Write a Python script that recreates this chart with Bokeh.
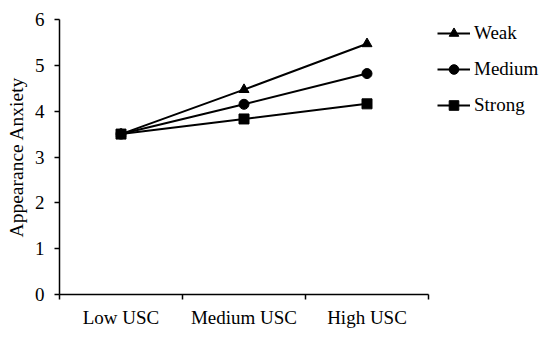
from bokeh.plotting import figure
from bokeh.models import FixedTicker, Range1d, Legend, LegendItem
from bokeh.embed import file_html
from bokeh.resources import INLINE

categories = ["Low USC", "Medium USC", "High USC"]
x_pos = [0.5, 1.5, 2.5]
weak = [3.5, 4.47, 5.47]
medium = [3.5, 4.15, 4.82]
strong = [3.5, 3.83, 4.16]
y_ticks = [0, 1, 2, 3, 4, 5, 6]

FONT = "Liberation Serif"

p = figure(frame_width=369, frame_height=275, output_backend="svg", toolbar_location=None,
           x_range=Range1d(0, 3), y_range=Range1d(0, 6),
           min_border_left=59, min_border_right=115, min_border_top=19, min_border_bottom=37)
p.xgrid.visible = False
p.ygrid.visible = False
p.outline_line_color = None
p.background_fill_color = "white"
p.border_fill_color = "white"

# x axis
p.xaxis.ticker = FixedTicker(ticks=x_pos, minor_ticks=[0, 1, 2, 3])
p.xaxis.major_label_overrides = {x: c for x, c in zip(x_pos, categories)}
p.xaxis.major_tick_out = 0
p.xaxis.major_tick_in = 0
p.xaxis.minor_tick_out = 5
p.xaxis.minor_tick_in = 0
p.xaxis.minor_tick_line_color = "black"
p.xaxis.minor_tick_line_width = 1.5
p.xaxis.axis_line_width = 1.5
p.xaxis.major_label_standoff = 7
p.xaxis.major_label_text_font = FONT
p.xaxis.major_label_text_font_size = "19px"
p.xaxis.major_label_text_color = "black"

# y axis
p.yaxis.ticker = FixedTicker(ticks=y_ticks, minor_ticks=[])
p.yaxis.major_tick_out = 5
p.yaxis.major_tick_in = 0
p.yaxis.major_tick_line_width = 1.5
p.yaxis.axis_line_width = 1.5
p.yaxis.major_label_standoff = 10
p.yaxis.major_label_text_font = FONT
p.yaxis.major_label_text_font_size = "19px"
p.yaxis.major_label_text_color = "black"
p.yaxis.axis_label = "Appearance Anxiety"
p.yaxis.axis_label_text_font = FONT
p.yaxis.axis_label_text_font_size = "19.5px"
p.yaxis.axis_label_text_font_style = "normal"
p.yaxis.axis_label_text_color = "black"
p.yaxis.axis_label_standoff = 5

l1 = p.line(x_pos, weak, line_color="black", line_width=2)
s1 = p.scatter(x_pos, weak, marker="triangle", size=10, color="black")
l2 = p.line(x_pos, medium, line_color="black", line_width=2)
s2 = p.scatter(x_pos, medium, marker="circle", size=10, color="black")
l3 = p.line(x_pos, strong, line_color="black", line_width=2)
s3 = p.scatter(x_pos, strong, marker="square", size=10, color="black")

legend = Legend(items=[
    LegendItem(label="Weak", renderers=[l1, s1]),
    LegendItem(label="Medium", renderers=[l2, s2]),
    LegendItem(label="Strong", renderers=[l3, s3]),
], location=(9, 177))
legend.border_line_color = None
legend.background_fill_alpha = 0
legend.label_text_font = FONT
legend.label_text_font_size = "19px"
legend.label_text_color = "black"
legend.glyph_width = 33
legend.glyph_height = 24
legend.label_height = 24
legend.label_standoff = 4
legend.spacing = 12
legend.padding = 0
legend.margin = 0
p.add_layout(legend, "right")

open("out.html", "w").write(file_html(p, INLINE))
